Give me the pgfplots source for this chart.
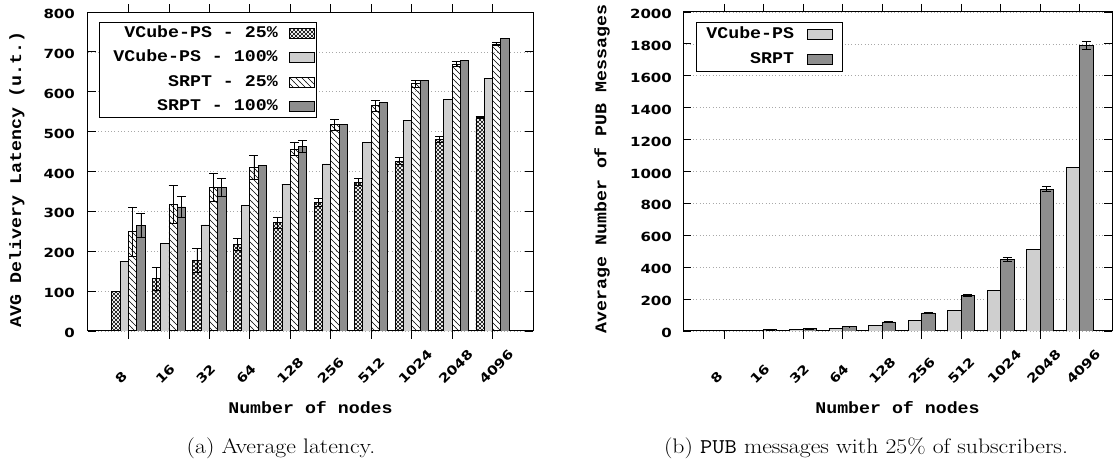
\documentclass[border=0pt]{standalone}
\usepackage{pgfplots}
\pgfplotsset{compat=1.18}
\usepackage{pgfplotstable}
\usepackage{graphicx}
\usepackage{fontspec}
\usetikzlibrary{patterns}
\newfontfamily\gpmono[FakeStretch=1.12]{Liberation Mono}
\newfontfamily\gpsans[FakeStretch=1.19]{DejaVu Sans}

\pgfdeclarepatternformonly{gpcross}{\pgfqpoint{-1pt}{-1pt}}{\pgfqpoint{5pt}{5pt}}{\pgfqpoint{4pt}{4pt}}{%
 \pgfsetlinewidth{0.5pt}%
 \pgfpathmoveto{\pgfqpoint{-0.1pt}{-0.1pt}}\pgfpathlineto{\pgfqpoint{4.1pt}{4.1pt}}%
 \pgfpathmoveto{\pgfqpoint{-0.1pt}{4.1pt}}\pgfpathlineto{\pgfqpoint{4.1pt}{-0.1pt}}%
 \pgfusepath{stroke}}
\pgfdeclarepatternformonly{gpnwlines}{\pgfqpoint{-1pt}{-1pt}}{\pgfqpoint{7pt}{7pt}}{\pgfqpoint{6pt}{6pt}}{%
 \pgfsetlinewidth{0.6pt}%
 \pgfpathmoveto{\pgfqpoint{-0.1pt}{6.1pt}}\pgfpathlineto{\pgfqpoint{6.1pt}{-0.1pt}}%
 \pgfusepath{stroke}}

\definecolor{lightbar}{HTML}{CFCFCF}
\definecolor{darkbar}{HTML}{8E8E8E}
\definecolor{gridc}{HTML}{A8A8A8}

\pgfplotstableread{
x v25 v25e v100 v100e s25 s25e s100 s100e
1 100 0 175 0 249 62 265 30
2 131 29 219 0 317 48 311 27
3 177 29 266 0 361 35 360 22
4 217 15 315 0 410 30 415 0
5 272 14 367 0 456 16 463 15
6 322 10 419 0 517 14 519 0
7 373 9 472 0 565 14 573 0
8 426 9 527 0 620 8 628 0
9 481 8 580 0 669 6 679 0
10 536 3 634 0 720 5 734 0
}\lattab

\pgfplotstableread{
x v ve s se
1 2 0 4 1
2 4 0 7 1
3 8 0 14 1
4 16 0 28 2
5 32 0 57 3
6 64 0 113 4
7 128 0 224 6
8 256 0 448 12
9 512 0 890 17
10 1024 0 1790 25
}\pubtab

\pgfplotsset{
  gpbase/.style={
    scale only axis,
    axis line style={line width=1pt, black},
    tick style={line width=0.8pt, black},
    major tick length=8pt,
    tick align=inside,
    xtick pos=both, ytick pos=both,
    xtick={1,...,10},
    xticklabels={8,16,32,64,128,256,512,1024,2048,4096},
    ymajorgrids,
    major grid style={gridc, line width=0.6pt, dash pattern=on 0.7pt off 2.6pt},
    ticklabel style={font=\gpsans\bfseries\fontsize{12.6}{13}\selectfont},
    /pgf/number format/assume math mode=true,
    /pgf/number format/1000 sep={},
    scaled y ticks=false,
    xticklabel style={rotate=45, anchor=base west, inner sep=0pt, xshift=-38.2pt, yshift=-26.9pt},
    yticklabel style={anchor=east, inner sep=0pt, yshift=-2pt},
    label style={font=\gpmono\bfseries\fontsize{16.3}{18}\selectfont},
    legend style={font=\gpmono\bfseries\fontsize{16.3}{18}\selectfont, draw=black, line width=0.8pt, fill=white,
      legend cell align=right, nodes={inner sep=0pt, text height=11pt, text depth=3pt}},
    legend plot pos=right,
    every axis plot/.append style={draw=black, line width=0.8pt},
    error bars/error bar style={black, line width=0.8pt},
    error bars/error mark options={rotate=90, black, mark size=4.5pt, line width=0.8pt},
  },
  gplegimg/.style={
    legend image code/.code={\draw[##1, line width=0.8pt] (0pt,-5pt) rectangle (25pt,5pt);},
  },
}

\begin{document}
\begin{tikzpicture}
\useasboundingbox (0pt,0pt) rectangle (1113pt,460pt);

\begin{axis}[gpbase,
  at={(88pt,129pt)}, anchor=south west,
  width=445pt, height=319pt,
  xmin=0, xmax=11, ymin=0, ymax=800,
  ytick={0,100,...,800},
  yticklabel style={xshift=-13pt},
  ybar=0pt, bar width=8.3pt,
  gplegimg,
  xlabel={Number of nodes},
  xlabel style={at={(axis description cs:0.5,0)}, anchor=base, yshift=-82.6pt},
  ylabel={AVG Delivery Latency (u.t.)},
  ylabel style={at={(axis description cs:-0.1596,0.476)}, anchor=center},
  legend style={at={(axis description cs:0,1)}, anchor=north west, xshift=11pt, yshift=-10pt,
    inner xsep=2pt, inner ysep=4pt, column sep=11pt, row sep=10.3pt},
]
\addplot[pattern=gpcross, pattern color=black, error bars/.cd, y dir=both, y explicit]
  table[x=x, y=v25, y error=v25e]{\lattab};
\addplot[fill=lightbar, error bars/.cd, y dir=both, y explicit]
  table[x=x, y=v100, y error=v100e]{\lattab};
\addplot[pattern=gpnwlines, pattern color=black, error bars/.cd, y dir=both, y explicit]
  table[x=x, y=s25, y error=s25e]{\lattab};
\addplot[fill=darkbar, error bars/.cd, y dir=both, y explicit]
  table[x=x, y=s100, y error=s100e]{\lattab};
\legend{VCube-PS - 25\%, \hspace*{12pt}VCube-PS - 100\%, SRPT - 25\%, SRPT - 100\%}
\end{axis}

\begin{axis}[gpbase,
  at={(683pt,129pt)}, anchor=south west,
  width=429pt, height=319pt,
  xmin=-0.04, xmax=10.82, ymin=0, ymax=2000,
  ytick={0,200,...,2000},
  yticklabel style={xshift=-11pt},
  ybar=0pt, bar width=13.3pt,
  gplegimg,
  xlabel={Number of nodes},
  xlabel style={at={(axis description cs:0.5,0)}, anchor=base, yshift=-82.6pt},
  ylabel={Average Number of PUB Messages},
  ylabel style={at={(axis description cs:-0.1884,0.508)}, anchor=center},
  legend style={at={(axis description cs:0,1)}, anchor=north west, xshift=13pt, yshift=-10pt,
    inner xsep=10pt, inner ysep=5pt, column sep=13pt, row sep=11pt},
]
\addplot[fill=lightbar, error bars/.cd, y dir=both, y explicit]
  table[x=x, y=v, y error=ve]{\pubtab};
\addplot[fill=darkbar, error bars/.cd, y dir=both, y explicit]
  table[x=x, y=s, y error=se]{\pubtab};
\legend{VCube-PS, SRPT}
\end{axis}

\node[anchor=base, inner sep=0pt] at (281pt,6.4pt)
  {\scalebox{1.13}[1]{\fontsize{21}{24}\selectfont (a) Average latency.}};
\node[anchor=base, inner sep=0pt] at (866pt,6.4pt)
  {\scalebox{1.13}[1]{\fontsize{21}{24}\selectfont (b) \texttt{PUB} messages with 25\% of subscribers.}};
\end{tikzpicture}
\end{document}
